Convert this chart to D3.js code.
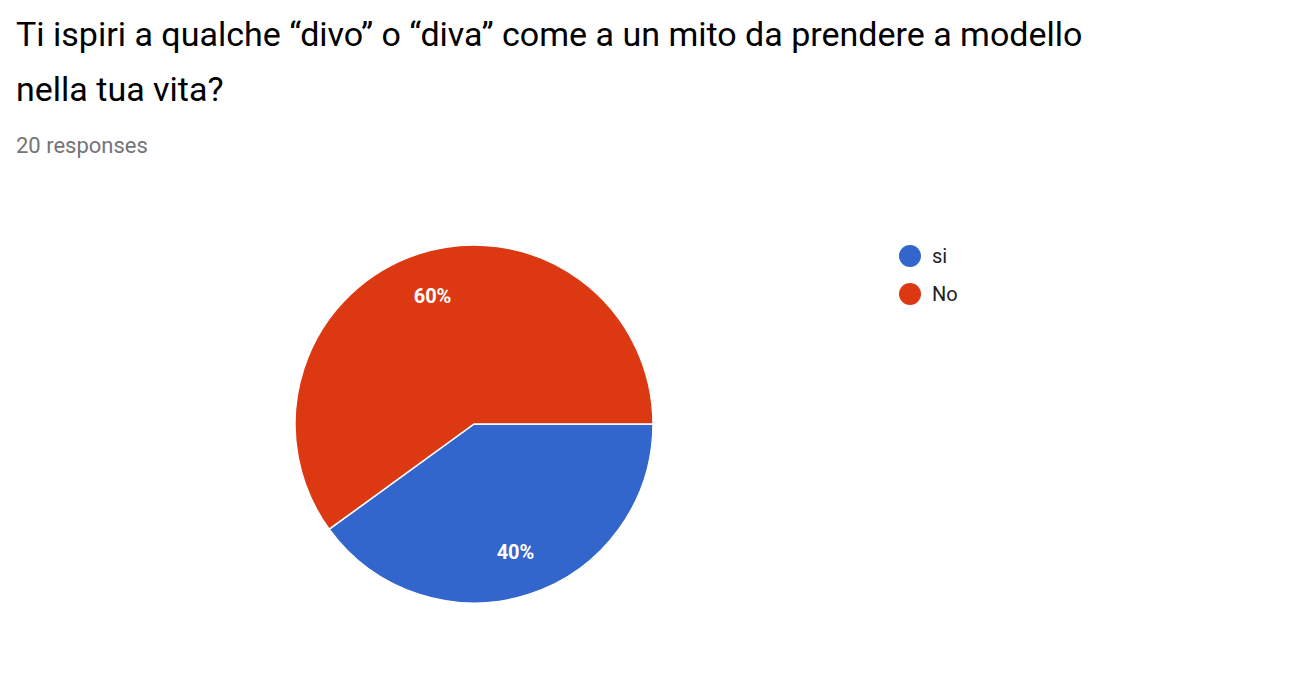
<!DOCTYPE html>
<html><head><meta charset="utf-8">
<script src="https://cdn.jsdelivr.net/npm/d3@7"></script>
<style>body{margin:0;background:#fff;font-family:Roboto,Arial,sans-serif}</style>
</head><body>
<svg id="c" width="1292" height="676"></svg>
<script>
const categories = ["si", "No"];
const values = [40, 60];
const colors = ["#3366cc", "#dc3912"];
const title = ["Ti ispiri a qualche “divo” o “diva” come a un mito da prendere a modello", "nella tua vita?"];
const subtitle = "20 responses";

const svg = d3.select("#c");
svg.selectAll("text.t").data(title).enter().append("text")
  .attr("x", 16).attr("y", (d,i)=>46+i*55).attr("font-size", 34).attr("fill","#000").text(d=>d);
svg.append("text").attr("x",16).attr("y",153).attr("font-size",22).attr("fill","#757575").text(subtitle);

const cx=474, cy=424, r=179;
const pie = d3.pie().sort(null).startAngle(Math.PI/2).endAngle(Math.PI/2+2*Math.PI);
const arcs = pie(values);
const arc = d3.arc().innerRadius(0).outerRadius(r);
const lab = d3.arc().innerRadius(r*0.75).outerRadius(r*0.75);
const g = svg.append("g").attr("transform",`translate(${cx},${cy})`);
g.selectAll("path").data(arcs).enter().append("path").attr("d",arc)
  .attr("fill",(d,i)=>colors[i]).attr("stroke","#fff").attr("stroke-width",1.5);
g.selectAll("text").data(arcs).enter().append("text")
  .attr("transform",d=>`translate(${lab.centroid(d)})`)
  .attr("text-anchor","middle").attr("dy","0.35em").attr("fill","#fff")
  .attr("font-size",20).attr("font-weight","bold")
  .text(d=>d3.format(".0%")(d.data/100));

const lg = svg.append("g");
categories.forEach((c,i)=>{
  lg.append("circle").attr("cx",910).attr("cy",256+i*38).attr("r",11).attr("fill",colors[i]);
  lg.append("text").attr("x",932).attr("y",256+i*38).attr("dy","0.35em").attr("font-size",20).attr("fill","#222").text(c);
});
</script>
</body></html>
